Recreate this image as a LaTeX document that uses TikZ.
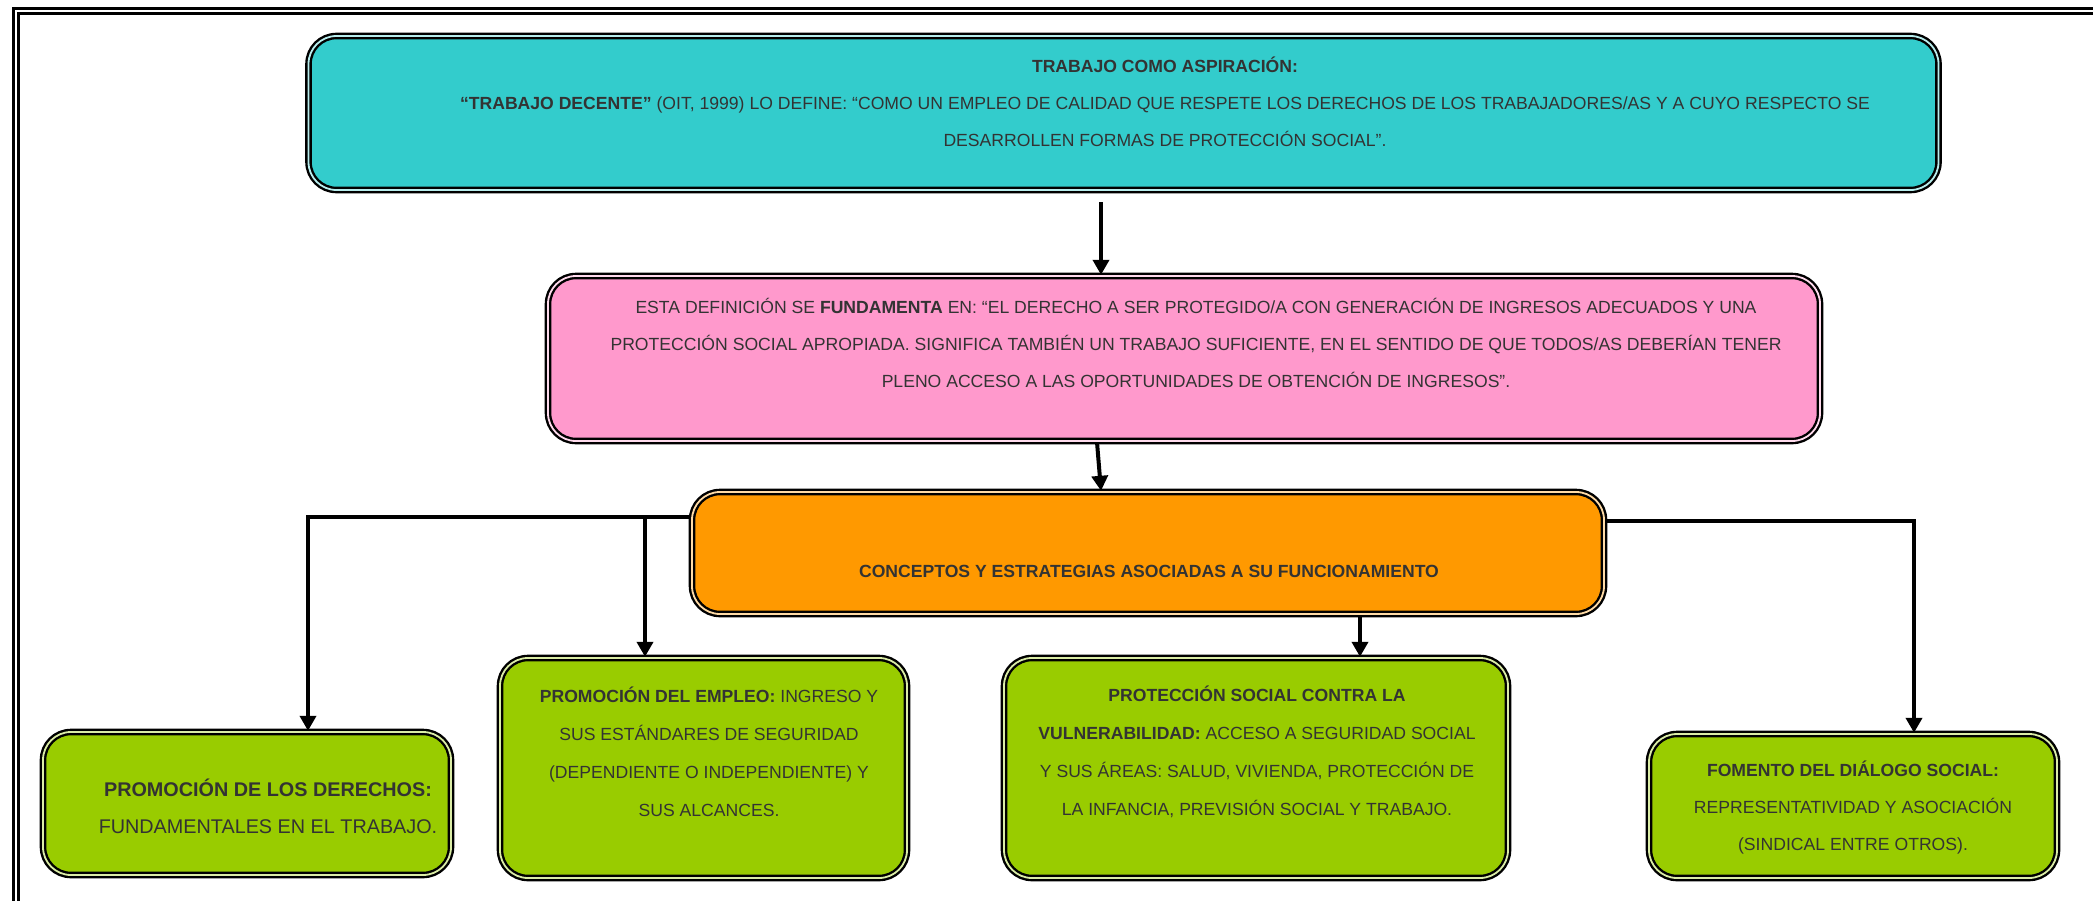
\documentclass[tikz,border=0pt]{standalone}
\usepackage{fontspec}
\setmainfont{Liberation Sans}
\usetikzlibrary{arrows.meta}
\definecolor{aqua}{HTML}{33CCCC}
\definecolor{rosa}{HTML}{FF99CC}
\definecolor{naranja}{HTML}{FF9900}
\definecolor{verde}{HTML}{99CC00}
\tikzstyle{box}=[draw=black, line width=1.2pt, double distance=0.9pt, rounded corners=14pt, inner sep=0pt]
\tikzstyle{txt}=[align=center, inner sep=0pt, text=black!80, font=\fontsize{8.8}{18.5}\selectfont]
\tikzstyle{edge}=[draw, line width=2pt, -{Triangle[width=8pt,length=7.5pt]}]

\begin{document}
\begin{tikzpicture}[x=0.5pt, y=-0.5pt]
    \useasboundingbox (0,0) rectangle (2093,900);
    % page frame (only top and left edge fall inside the picture)
    \draw[black, line width=1.4pt, double=white, double distance=1.3pt] (16,11) rectangle (2200,1000);

    % boxes
    \node[box, fill=aqua, double=aqua!35!white, minimum width=815pt, minimum height=77pt] (aspiracion) at (1123.5,113) {};
    \node[box, fill=rosa, double=rosa!35!white, minimum width=636pt, minimum height=82.5pt] (fundamento) at (1184,358.5) {};
    \node[box, fill=naranja, double=naranja!35!white, minimum width=456pt, minimum height=61pt] (conceptos) at (1148,553) {};
    \node[box, fill=verde, double=verde!35!white, minimum width=204pt, minimum height=71.5pt] (derechos) at (247,803.5) {};
    \node[box, fill=verde, double=verde!35!white, minimum width=203.5pt, minimum height=110pt] (empleo) at (703.5,768) {};
    \node[box, fill=verde, double=verde!35!white, minimum width=252pt, minimum height=110pt] (proteccion) at (1256,768) {};
    \node[box, fill=verde, double=verde!35!white, minimum width=204pt, minimum height=72pt] (dialogo) at (1853,806) {};

    % texts
    \node[txt] (aspiracion-txt) at (1165,102) {\textbf{TRABAJO COMO ASPIRACIÓN:}\\
        \textbf{“TRABAJO DECENTE”} (OIT, 1999) LO DEFINE: “COMO UN EMPLEO DE CALIDAD QUE RESPETE LOS DERECHOS DE LOS TRABAJADORES/AS Y A CUYO RESPECTO SE\\
        DESARROLLEN FORMAS DE PROTECCIÓN SOCIAL”.};
    \node[txt] (fundamento-txt) at (1196,342.5) {ESTA DEFINICIÓN SE \textbf{FUNDAMENTA} EN: “EL DERECHO A SER PROTEGIDO/A CON GENERACIÓN DE INGRESOS ADECUADOS Y UNA\\
        PROTECCIÓN SOCIAL APROPIADA. SIGNIFICA TAMBIÉN UN TRABAJO SUFICIENTE, EN EL SENTIDO DE QUE TODOS/AS DEBERÍAN TENER\\
        PLENO ACCESO A LAS OPORTUNIDADES DE OBTENCIÓN DE INGRESOS”.};
    \node[txt] (conceptos-txt) at (1149,571.5) {\textbf{CONCEPTOS Y ESTRATEGIAS ASOCIADAS A SU FUNCIONAMIENTO}};
    \node[txt, font=\fontsize{9.9}{18.7}\selectfont] (derechos-txt) at (268,806.5) {\textbf{PROMOCIÓN DE LOS DERECHOS:}\\FUNDAMENTALES EN EL TRABAJO.};
    \node[txt, font=\fontsize{8.8}{19}\selectfont] (empleo-txt) at (709,751.5) {\textbf{PROMOCIÓN DEL EMPLEO:} INGRESO Y\\SUS ESTÁNDARES DE SEGURIDAD\\(DEPENDIENTE O INDEPENDIENTE) Y\\SUS ALCANCES.};
    \node[txt, font=\fontsize{8.8}{19}\selectfont] (proteccion-txt) at (1257,751.5) {\textbf{PROTECCIÓN SOCIAL CONTRA LA}\\\textbf{VULNERABILIDAD:} ACCESO A SEGURIDAD SOCIAL\\Y SUS ÁREAS: SALUD, VIVIENDA, PROTECCIÓN DE\\LA INFANCIA, PREVISIÓN SOCIAL Y TRABAJO.};
    \node[txt] (dialogo-txt) at (1853,808) {\textbf{FOMENTO DEL DIÁLOGO SOCIAL:}\\REPRESENTATIVIDAD Y ASOCIACIÓN\\(SINDICAL ENTRE OTROS).};

    % connectors
    \coordinate (bajada) at (1101,0);
    \coordinate (lbus) at (308,517);
    \coordinate (ljoin) at (645,517);
    \coordinate (rbus) at (1914,521);
    \coordinate (cbaja) at (1360,0);
    \path[edge, shorten <=5.5pt] (aspiracion.south -| bajada) -- (fundamento.north -| bajada);
    \path[edge] ([xshift=-2pt]fundamento.south -| bajada) -- (conceptos.north -| bajada);
    \path[edge] (conceptos.west |- lbus) -| (derechos.north -| lbus);
    \path[edge] (ljoin) -- (empleo.north -| ljoin);
    \path[edge] (conceptos.south -| cbaja) -- (proteccion.north -| cbaja);
    \path[edge] (conceptos.east |- rbus) -| (dialogo.north -| rbus);
\end{tikzpicture}
\end{document}
